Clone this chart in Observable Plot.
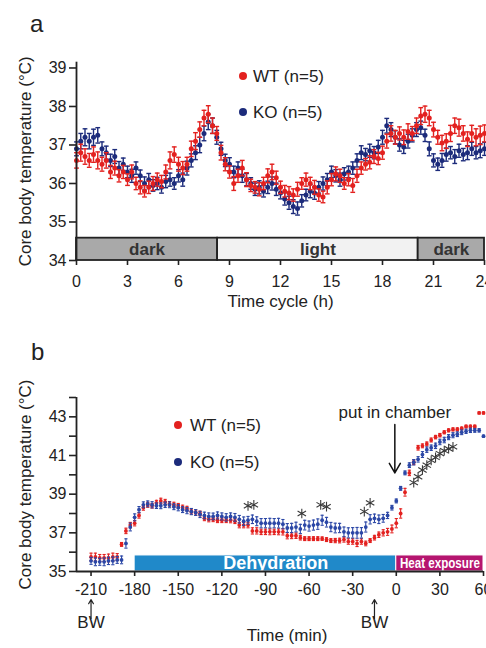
<!DOCTYPE html>
<html><head><meta charset="utf-8">
<script src="https://cdn.jsdelivr.net/npm/d3@7"></script>
<script src="https://cdn.jsdelivr.net/npm/@observablehq/plot@0.6"></script>
<style>
body{margin:0;background:#fff;font-family:"Liberation Sans",Arial,Helvetica,sans-serif;color:#222}
#page{position:relative;width:486px;height:648px;overflow:hidden;background:#fff}
.abs{position:absolute;white-space:nowrap;line-height:1}
.dot{position:absolute;width:8px;height:8px;border-radius:50%}
</style></head><body><div id="page">
<div id="pa" class="abs" style="left:0;top:0"></div>
<div id="pb" class="abs" style="left:0;top:330px"></div>
</div>
<script>
// ---------- Panel a data ----------
const timeA = [0,0.25,0.5,0.75,1,1.25,1.5,1.75,2,2.25,
2.5,2.75,3,3.25,3.5,3.75,4,4.25,4.5,4.75,
5,5.25,5.5,5.75,6,6.25,6.5,6.75,7,7.25,
7.5,7.75,8,8.25,8.5,8.75,9,9.25,9.5,9.75,
10,10.25,10.5,10.75,11,11.25,11.5,11.75,12,12.25,
12.5,12.75,13,13.25,13.5,13.75,14,14.25,14.5,14.75,
15,15.25,15.5,15.75,16,16.25,16.5,16.75,17,17.25,
17.5,17.75,18,18.25,18.5,18.75,19,19.25,19.5,19.75,
20,20.25,20.5,20.75,21,21.25,21.5,21.75,22,22.25,
22.5,22.75,23,23.25,23.5,23.75,24];
const koA = [36.9,37.1,37.2,37.1,37.2,37.25,36.9,36.8,36.6,36.7,
36.4,36.5,36.3,36.2,36.4,36.2,36.0,36.1,35.95,36.0,
35.9,36.05,36.1,36.0,36.2,36.1,36.4,36.6,36.8,37.0,
37.3,37.6,37.5,37.2,36.9,36.6,36.5,36.3,36.4,36.2,
36.1,36.0,35.85,35.9,35.8,35.9,36.0,35.85,35.75,35.6,
35.5,35.4,35.35,35.55,35.7,35.8,35.75,35.9,36.0,36.1,
36.3,36.2,36.1,36.25,36.3,36.4,36.6,36.8,36.75,36.85,
36.8,36.95,37.2,37.5,37.4,37.2,37.0,36.95,37.1,37.25,
37.4,37.45,37.25,36.9,36.6,36.5,36.6,36.75,36.8,36.7,
36.85,36.75,36.8,36.9,36.8,36.85,36.9];
const koSeA = [0.18,0.2,0.22,0.2,0.21,0.2,0.18,0.17,0.16,0.18,
0.17,0.16,0.15,0.17,0.16,0.15,0.17,0.16,0.15,0.16,
0.15,0.16,0.17,0.15,0.16,0.17,0.18,0.17,0.18,0.2,
0.19,0.2,0.2,0.18,0.17,0.16,0.17,0.15,0.16,0.17,
0.16,0.15,0.16,0.17,0.15,0.16,0.17,0.16,0.15,0.16,
0.17,0.18,0.17,0.16,0.15,0.17,0.16,0.15,0.17,0.16,
0.15,0.16,0.17,0.16,0.15,0.16,0.17,0.18,0.16,0.17,
0.16,0.17,0.18,0.19,0.18,0.17,0.16,0.17,0.18,0.17,
0.18,0.17,0.16,0.18,0.17,0.16,0.18,0.17,0.16,0.18,
0.17,0.16,0.18,0.17,0.16,0.18,0.17];
const wtA = [36.6,36.8,36.7,36.6,36.75,36.6,36.5,36.6,36.3,36.4,
36.2,36.3,36.1,36.3,36.0,35.9,35.8,35.9,36.0,36.1,
36.05,36.3,36.6,36.75,36.5,36.4,36.5,36.9,37.1,37.4,
37.7,37.8,37.5,37.3,36.8,36.5,36.3,36.0,36.2,36.4,
36.1,35.95,35.9,35.85,36.0,36.2,36.3,36.15,35.9,35.8,
35.75,35.7,35.85,36.0,36.1,36.0,35.9,35.7,35.65,35.9,
36.1,36.25,36.2,36.0,36.1,35.95,36.2,36.4,36.5,36.55,
36.7,36.65,36.8,37.1,37.3,37.2,37.3,37.2,37.35,37.3,
37.5,37.75,37.8,37.7,37.4,37.2,37.05,37.1,37.3,37.5,
37.45,37.3,37.15,37.3,37.2,37.25,37.3];
const wtSeA = [0.2,0.22,0.2,0.18,0.2,0.22,0.18,0.2,0.17,0.18,
0.16,0.17,0.15,0.18,0.16,0.17,0.15,0.16,0.18,0.17,
0.16,0.18,0.22,0.2,0.18,0.17,0.18,0.2,0.22,0.2,
0.2,0.22,0.2,0.18,0.19,0.17,0.16,0.18,0.17,0.2,
0.18,0.16,0.15,0.17,0.16,0.18,0.2,0.17,0.16,0.15,
0.17,0.16,0.18,0.15,0.17,0.16,0.18,0.16,0.15,0.17,
0.16,0.18,0.17,0.15,0.16,0.18,0.17,0.16,0.15,0.17,
0.18,0.16,0.17,0.18,0.2,0.18,0.17,0.19,0.2,0.18,
0.2,0.22,0.21,0.2,0.19,0.18,0.2,0.19,0.21,0.2,
0.22,0.2,0.19,0.21,0.22,0.24,0.22];
const xTicksA = [0,3,6,9,12,15,18,21,24];
const yTicksA = [34,35,36,37,38,39];
const bandStartA = [0,8.3,20.1];
const bandEndA = [8.3,20.1,24];
const bandLabelA = ["dark","light","dark"];

// ---------- Panel b data ----------
const timeB = [-210,-207,-204,-201,-198,-195,-192,-189,-186,-183,
-180,-177,-174,-171,-168,-165,-162,-159,-156,-153,
-150,-147,-144,-141,-138,-135,-132,-129,-126,-123,
-120,-117,-114,-111,-108,-105,-102,-99,-96,-93,
-90,-87,-84,-81,-78,-75,-72,-69,-66,-63,
-60,-57,-54,-51,-48,-45,-42,-39,-36,-33,
-30,-27,-24,-21,-18,-15,-12,-9,-6,-3,
0,3,6,9,12,15,18,21,24,27,
30,33,36,39,42,45,48,51,54,57,
60];
const wtB = [35.75,35.75,35.7,35.7,35.7,35.75,35.75,36.4,37.1,37.4,
37.5,37.9,38.3,38.45,38.4,38.55,38.65,38.6,38.5,38.45,
38.4,38.3,38.25,38.1,38.05,38.0,37.75,37.7,37.7,37.65,
37.65,37.65,37.65,37.6,37.4,37.4,37.4,37.1,37.1,37.05,
37.05,37.05,37.05,37.05,37.05,36.85,36.85,36.85,36.75,36.7,
36.7,36.7,36.7,36.7,36.65,36.6,36.6,36.6,36.65,36.55,
36.55,36.45,36.55,36.45,36.6,36.75,36.9,37.0,37.05,37.2,
37.5,38.0,39.1,40.1,40.65,41.4,41.5,41.6,41.8,41.95,
42.05,42.2,42.3,42.35,42.35,42.4,42.5,42.5,42.5,43.2,
43.2];
const wtSeB = [0.2,0.2,0.18,0.18,0.2,0.2,0.18,0.1,0.14,0.14,
0.14,0.14,0.13,0.13,0.12,0.13,0.14,0.13,0.12,0.13,
0.12,0.13,0.12,0.12,0.13,0.12,0.12,0.13,0.12,0.12,
0.12,0.12,0.13,0.12,0.14,0.14,0.14,0.16,0.16,0.14,
0.14,0.15,0.14,0.15,0.16,0.16,0.15,0.14,0.12,0.1,
0.1,0.1,0.1,0.09,0.1,0.1,0.11,0.12,0.13,0.14,
0.14,0.16,0.14,0.12,0.1,0.12,0.14,0.16,0.18,0.2,
0.24,0.24,0.2,0.14,0.12,0.12,0.1,0.1,0.1,0.09,
0.09,0.08,0.08,0.08,0.08,0.07,0.07,0.07,0.07,0.05,
0.05];
const koB = [35.55,35.5,35.5,35.5,35.55,35.55,35.6,35.6,36.45,37.3,
37.8,38.2,38.45,38.5,38.45,38.4,38.4,38.45,38.45,38.35,
38.3,38.2,38.15,38.1,38.05,37.95,37.9,37.85,37.85,37.9,
37.85,37.8,37.85,37.8,37.7,37.6,37.65,37.7,37.6,37.5,
37.5,37.5,37.5,37.5,37.45,37.25,37.25,37.3,37.2,37.4,
37.35,37.4,37.45,37.65,37.55,37.3,37.25,37.25,37.05,37.0,
37.0,37.0,37.0,37.3,37.7,37.75,37.7,37.75,37.9,38.3,
38.65,39.3,40.1,40.5,40.65,40.8,41.05,41.3,41.4,41.5,
41.7,41.8,41.95,42.05,42.1,42.2,42.25,42.3,42.3,42.3,
42.0];
const koSeB = [0.18,0.2,0.18,0.2,0.19,0.2,0.18,0.2,0.24,0.2,
0.18,0.16,0.15,0.15,0.16,0.14,0.15,0.14,0.15,0.15,
0.16,0.15,0.16,0.16,0.15,0.16,0.17,0.18,0.17,0.18,
0.18,0.19,0.18,0.2,0.2,0.22,0.2,0.22,0.23,0.24,
0.24,0.25,0.24,0.25,0.24,0.23,0.24,0.25,0.24,0.25,
0.26,0.26,0.27,0.26,0.25,0.24,0.25,0.24,0.25,0.26,
0.27,0.28,0.27,0.26,0.24,0.22,0.22,0.2,0.16,0.12,
0.1,0.1,0.1,0.12,0.14,0.14,0.15,0.14,0.14,0.14,
0.14,0.14,0.13,0.13,0.12,0.12,0.11,0.11,0.1,0.09,
0.05];
const starT = [-102,-98,-65,-52,-48,-22,-18,12,15,18,21,24,27,30,33,36,39];
const starY = [38.4,38.45,38.0,38.45,38.35,38.1,38.55,39.6,39.9,40.25,40.5,40.75,40.9,41.1,41.25,41.35,41.45];
const xTicksB = [-210,-180,-150,-120,-90,-60,-30,0,30,60];
const yTicksB = [35,37,39,41,43];
const yMinorB = [36,38,40,42,44];
const phaseStartB = [-180,0];
const phaseEndB = [0,60];
const phaseLabelB = ["Dehydration","Heat exposure"];
const phaseLabelXB = [-83,30];
const bwTimes = [-210,-15];
const chamberTime = -1;

const seriesLabels = ["WT (n=5)","KO (n=5)"];
const yLabel = "Core body temperature (°C)";

// ---------- styles ----------
const FONT = '"Liberation Sans", Arial, Helvetica, sans-serif';
const RED = "#e3211f", NAVY = "#1c2b7b", BLUEB = "#2b47a6", INK = "#222";

function series(rows, color, cap, r, sw) {
  return [
    Plot.ruleX(rows, {x: "t", y1: d => d.v - d.se, y2: d => d.v + d.se, stroke: color, strokeWidth: sw}),
    Plot.link(rows, {x1: d => d.t - cap, x2: d => d.t + cap, y1: d => d.v + d.se, y2: d => d.v + d.se, stroke: color, strokeWidth: sw}),
    Plot.link(rows, {x1: d => d.t - cap, x2: d => d.t + cap, y1: d => d.v - d.se, y2: d => d.v - d.se, stroke: color, strokeWidth: sw}),
    Plot.dot(rows, {x: "t", y: "v", r, fill: color, stroke: "none"})
  ];
}

// ---------- Panel a ----------
const koRowsA = timeA.map((t,i) => ({t, v: koA[i], se: koSeA[i]}));
const wtRowsA = timeA.map((t,i) => ({t, v: wtA[i], se: wtSeA[i]}));
const bandsA = bandLabelA.map((l,i) => ({s: bandStartA[i], e: bandEndA[i], l}));

const chartA = Plot.plot({
  width: 486, height: 320,
  marginLeft: 76, marginRight: 2, marginTop: 61.7, marginBottom: 60,
  style: {fontFamily: FONT, fontSize: "16px", color: INK, background: "transparent"},
  x: {domain: [0, 24]},
  y: {domain: [34, 39.15]},
  marks: [
    ...series(koRowsA, NAVY, 0.14, 2.5, 1.4),
    ...series(wtRowsA, RED, 0.14, 2.5, 1.4),
    Plot.rect(bandsA, {x1: "s", x2: "e", y1: 34, y2: 34.58, fill: d => d.l === "light" ? "#f2f2f2" : "#a9a9a9", stroke: "#222", strokeWidth: 1.8}),
    Plot.text(bandsA, {x: d => (d.s + d.e) / 2, y: 34.29, text: "l", fontWeight: "bold", fontSize: 17, fill: "#333"}),
    Plot.ruleX([0], {y1: 34, y2: 39.15, stroke: INK, strokeWidth: 1.8}),
    Plot.axisY({ticks: yTicksA, tickSize: 7, tickPadding: 3, fontSize: 16, label: null, strokeWidth: 1.6, tickFormat: d => String(d)}),
    Plot.axisX({ticks: xTicksA, tickSize: 5, tickPadding: 10, fontSize: 16, label: null, strokeWidth: 1.6, tickFormat: d => String(d)}),
    Plot.text([yLabel], {frameAnchor: "left", textAnchor: "middle", dx: -51, rotate: -90, fontSize: 17, fill: INK}),
    Plot.text(["Time cycle (h)"], {frameAnchor: "bottom", dy: 46, fontSize: 17, fill: INK})
  ]
});
document.getElementById("pa").appendChild(chartA);

// ---------- Panel b ----------
const koRowsB = timeB.map((t,i) => ({t, v: koB[i], se: koSeB[i]}));
const wtRowsB = timeB.map((t,i) => ({t, v: wtB[i], se: wtSeB[i]}));
const phasesB = phaseLabelB.map((l,i) => ({s: phaseStartB[i], e: phaseEndB[i], l, x: phaseLabelXB[i]}));
const starsB = starT.map((t,i) => ({t, v: starY[i]}));

const chartB = Plot.plot({
  width: 486, height: 318,
  marginLeft: 76, marginRight: 3, marginTop: 67, marginBottom: 77,
  style: {fontFamily: FONT, fontSize: "16px", color: INK, background: "transparent"},
  x: {domain: [-220, 60]},
  y: {domain: [35, 44]},
  marks: [
    Plot.rect(phasesB, {x1: "s", x2: "e", y1: 35, y2: 35.83, fill: d => d.l === "Dehydration" ? "#2089c9" : "#b5156f", stroke: "#fff", strokeWidth: 1}),
    Plot.text(phasesB, {x: "x", y: 35.42, text: "l", fill: "#fff", fontWeight: "bold", fontSize: d => d.l === "Dehydration" ? 18 : 15}),
    ...series(wtRowsB, RED, 1.1, 1.9, 1.1),
    ...series(koRowsB, BLUEB, 1.1, 1.9, 1.1),
    Plot.dot(starsB, {x: "t", y: "v", symbol: "asterisk", r: 4.6, stroke: "#3a3a3a", strokeWidth: 1.1}),
    Plot.arrow([chamberTime], {x: d => d, y1: 42.6, y2: 40.1, stroke: "#111", strokeWidth: 1.5, headLength: 11}),
    Plot.text(["put in chamber"], {x: chamberTime, y: 43.22, fontSize: 17, fill: INK}),
    Plot.ruleX([-220], {y1: 35, y2: 44, stroke: INK, strokeWidth: 1.8}),
    Plot.ruleY([35], {x1: -220, x2: 60, stroke: INK, strokeWidth: 1.8}),
    Plot.axisY({ticks: yTicksB, tickSize: 7, tickPadding: 3, fontSize: 16, label: null, strokeWidth: 1.6, tickFormat: d => String(d)}),
    Plot.axisY({ticks: yMinorB, tickSize: 7, tickFormat: () => "", label: null, strokeWidth: 1.6}),
    Plot.axisX({ticks: xTicksB, tickSize: 5, tickPadding: 7, fontSize: 16, label: null, strokeWidth: 1.6, tickFormat: d => String(d)}),
    Plot.arrow(bwTimes, {x: d => d, y1: 32.57, y2: 33.55, stroke: INK, strokeWidth: 1.2, headLength: 6}),
    Plot.text(bwTimes, {x: d => d, text: () => "BW", frameAnchor: "bottom", dy: 56, fontSize: 17, fill: INK}),
    Plot.text(["Time (min)"], {frameAnchor: "bottom", dx: 7, dy: 69, fontSize: 17, fill: INK}),
    Plot.text([yLabel], {frameAnchor: "left", textAnchor: "middle", dx: -51, rotate: -90, fontSize: 17, fill: INK})
  ]
});
document.getElementById("pb").appendChild(chartB);
// condense the "Heat exposure" label so it fits inside its band, as in the original
chartB.querySelectorAll("text").forEach(t => {
  if (t.textContent === "Heat exposure") {
    t.setAttribute("textLength", "80");
    t.setAttribute("lengthAdjust", "spacingAndGlyphs");
  }
});

// ---------- overlays: panel letters and legends ----------
const page = document.getElementById("page");
function addText(txt, left, top, size) {
  const s = document.createElement("div");
  s.className = "abs";
  s.textContent = txt;
  s.style.left = left + "px"; s.style.top = top + "px"; s.style.fontSize = size + "px";
  page.appendChild(s);
}
function addDot(cx, cy, color) {
  const d = document.createElement("div");
  d.className = "dot";
  d.style.left = (cx - 4) + "px"; d.style.top = (cy - 4) + "px"; d.style.background = color;
  page.appendChild(d);
}
addText("a", 30, 11.5, 24);
addText("b", 31, 339.5, 24);
const legA = [{x: 243, y: 76}, {x: 243, y: 112}];
const legB = [{x: 178, y: 425}, {x: 178, y: 462}];
const legColorsA = [RED, NAVY], legColorsB = [RED, NAVY];
seriesLabels.forEach((lab, i) => {
  addDot(legA[i].x, legA[i].y, legColorsA[i]);
  addText(lab, legA[i].x + 10, legA[i].y - 8.5, 17);
  addDot(legB[i].x, legB[i].y, legColorsB[i]);
  addText(lab, legB[i].x + 12, legB[i].y - 8.5, 17);
});
</script>
</body></html>
